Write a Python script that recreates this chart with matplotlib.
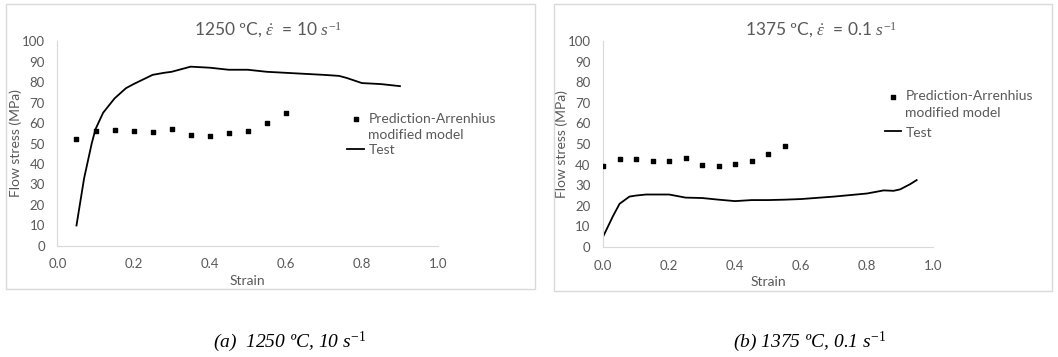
import numpy as np
import matplotlib.pyplot as plt
from matplotlib.patches import Rectangle

plt.rcParams['font.family'] = ['Lato', 'DejaVu Sans']
plt.rcParams['mathtext.fontset'] = 'custom'
plt.rcParams['mathtext.rm'] = 'Liberation Serif'
plt.rcParams['mathtext.it'] = 'Liberation Serif:italic'

# (a) 1250 C, 10 s-1
pred_a_x = [0.05, 0.10, 0.15, 0.20, 0.25, 0.30, 0.35, 0.40, 0.45, 0.50, 0.55, 0.60]
pred_a_y = [52, 56, 56.5, 56, 55.5, 57, 54, 53.5, 55, 56, 60, 65]
test_a_x = [0.05, 0.07, 0.09, 0.10, 0.12, 0.15, 0.18, 0.20, 0.25, 0.28, 0.30, 0.35, 0.40,
            0.45, 0.50, 0.55, 0.60, 0.65, 0.70, 0.74, 0.76, 0.80, 0.85, 0.90]
test_a_y = [10, 33, 50, 57, 65, 72, 77, 79, 83.5, 84.5, 85, 87.5, 87,
            86, 86, 85, 84.5, 84, 83.5, 83, 82, 79.5, 79, 78]

# (b) 1375 C, 0.1 s-1
pred_b_x = [0.00, 0.05, 0.10, 0.15, 0.20, 0.25, 0.30, 0.35, 0.40, 0.45, 0.50, 0.55]
pred_b_y = [39.5, 42.5, 42.5, 42, 42, 43, 40, 39.5, 40.5, 42, 45, 49]
test_b_x = [0.00, 0.03, 0.05, 0.08, 0.10, 0.13, 0.20, 0.25, 0.30, 0.35, 0.40, 0.45,
            0.50, 0.55, 0.60, 0.70, 0.80, 0.85, 0.88, 0.90, 0.93, 0.95]
test_b_y = [5, 15, 21, 24.5, 25, 25.5, 25.5, 24, 23.8, 23, 22.3, 22.8,
            22.8, 23, 23.3, 24.5, 26, 27.5, 27.3, 28, 30.5, 32.5]

titles = [r'1250 ºC, $\dot{\varepsilon}$  = 10 $s^{-1}$',
          r'1375 ºC, $\dot{\varepsilon}$  = 0.1 $s^{-1}$']
captions = [r'(a)  1250 ºC, 10 $\mathit{s^{-1}}$',
            r'(b) 1375 ºC, 0.1 $\mathit{s^{-1}}$']
pred_label = 'Prediction-Arrenhius\nmodified model'

grey = '#595959'
edge = '#d9d9d9'

fig = plt.figure(figsize=(10.58, 3.57), dpi=100)

# panel boxes like the excel chart frames
fig.patches.append(Rectangle((6 / 1058, 1 - 289 / 357), 529 / 1058, 285 / 357,
                             transform=fig.transFigure, fill=False, ec=edge, lw=1))
fig.patches.append(Rectangle((554 / 1058, 1 - 291 / 357), 498 / 1058, 287 / 357,
                             transform=fig.transFigure, fill=False, ec=edge, lw=1))

ax_a = fig.add_axes([0.0543, 0.311, 0.3597, 0.574])
ax_b = fig.add_axes([0.570, 0.308, 0.312, 0.577])

panels = [
    (ax_a, pred_a_x, pred_a_y, test_a_x, test_a_y, (0.762, 0.65), 0.2, 0.553),
    (ax_b, pred_b_x, pred_b_y, test_b_x, test_b_y, (0.853, 0.76), 0.55, 0.66),
]

for i, (ax, px, py, tx, ty, leg_pos, lsp, tx_pos) in enumerate(panels):
    ax.scatter(px, py, marker='s', s=9, color='black', label=pred_label, zorder=3)
    ax.plot(tx, ty, color='black', lw=1.3, label='Test')
    ax.set_xlim(0, 1)
    ax.set_ylim(0, 100)
    ax.set_xticks(np.arange(0, 1.01, 0.2))
    ax.set_xticklabels(['%.1f' % v for v in np.arange(0, 1.01, 0.2)])
    ax.set_yticks(range(0, 101, 10))
    for s in ['top', 'right']:
        ax.spines[s].set_visible(False)
    for s in ['left', 'bottom']:
        ax.spines[s].set_color(edge)
    ax.tick_params(length=0, labelsize=9.5, colors=grey, pad=9)
    ax.set_xlabel('Strain', fontsize=10, color=grey, labelpad=3)
    ax.set_ylabel('Flow stress (MPa)', fontsize=10, color=grey, labelpad=0)
    ax.set_title(titles[i], fontsize=12.5, color=grey, pad=4, x=tx_pos)
    leg = ax.legend(loc='upper left', bbox_to_anchor=leg_pos, frameon=False,
                    borderpad=0, borderaxespad=0, handlelength=1.2,
                    handletextpad=0.3, labelspacing=lsp, fontsize=10)
    # put the marker next to the first line of the two-line label
    for col in leg._legend_handle_box.get_children():
        for row in col.get_children():
            row.align = 'top'
    for t in leg.get_texts():
        t.set_color(grey)
        t.set_linespacing(1.45)

fig.text(290 / 1058, 1 - 342 / 357, captions[0], fontsize=14, style='italic',
         family='Liberation Serif', ha='center', va='center')
fig.text(810 / 1058, 1 - 342 / 357, captions[1], fontsize=14, style='italic',
         family='Liberation Serif', ha='center', va='center')

fig.savefig('out.png', dpi=100, facecolor='white')
